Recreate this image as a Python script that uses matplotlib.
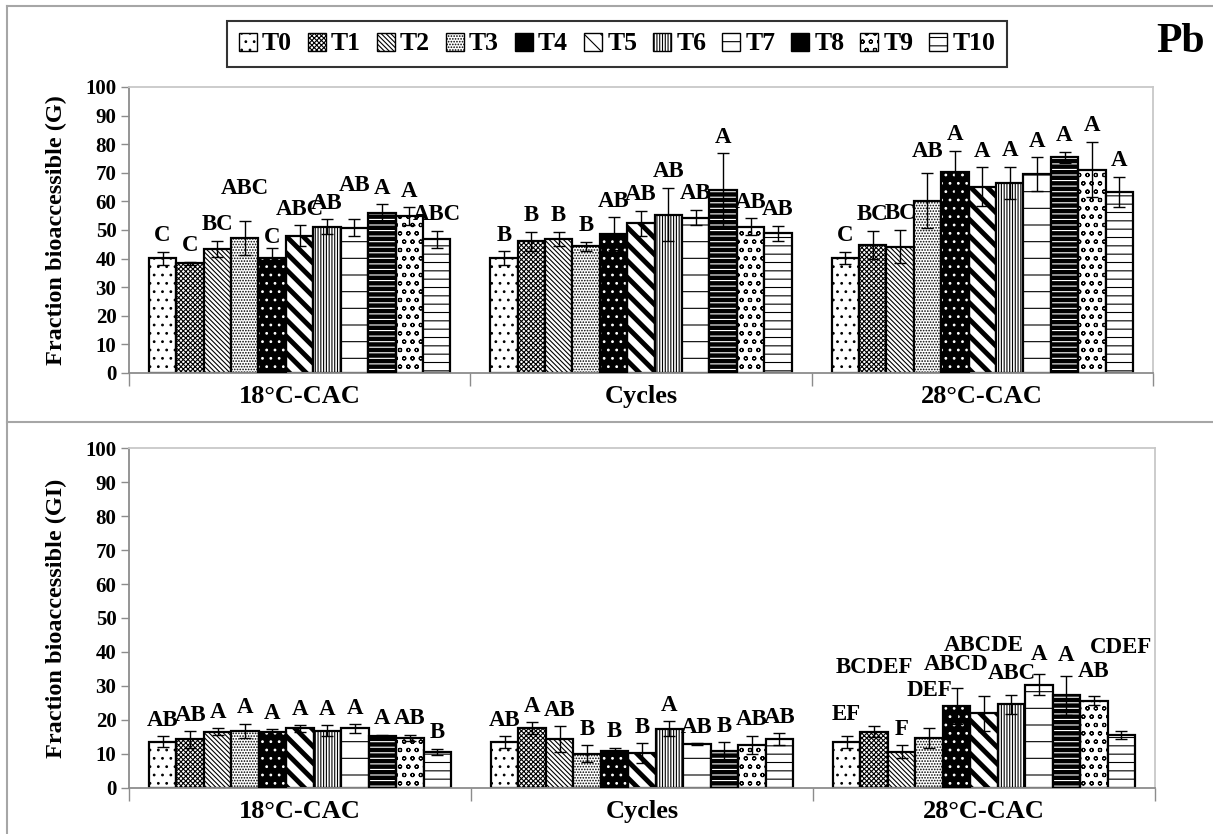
import numpy as np
import matplotlib.pyplot as plt
from matplotlib.patches import Patch
from matplotlib.lines import Line2D

plt.rcParams['font.family'] = ['Liberation Serif', 'DejaVu Serif']
plt.rcParams['font.weight'] = 'bold'
plt.rcParams['hatch.linewidth'] = 0.8

# données
groupes = ['18°C-CAC', 'Cycles', '28°C-CAC']
traitements = ['T0', 'T1', 'T2', 'T3', 'T4', 'T5', 'T6', 'T7', 'T8', 'T9', 'T10']

# fraction bioaccessible (G)
g_18 = [40.1, 38.3, 43.4, 47.2, 40.3, 48.0, 51.2, 50.8, 56.0, 54.8, 46.8]
g_18_err = [2.3, 0.6, 2.9, 6.0, 3.5, 3.6, 2.5, 3.0, 3.0, 3.2, 3.0]
g_18_lettres = ['C', 'C', 'BC', 'ABC', 'C', 'ABC', 'AB', 'AB', 'A', 'A', 'ABC']
g_cyc = [40.2, 46.0, 46.8, 44.3, 48.7, 52.3, 55.4, 54.3, 63.9, 51.2, 48.9]
g_cyc_err = [2.3, 3.3, 2.5, 1.6, 5.8, 4.4, 9.3, 2.7, 12.9, 2.9, 2.6]
g_cyc_lettres = ['B', 'B', 'B', 'B', 'AB', 'AB', 'AB', 'AB', 'A', 'AB', 'AB']
g_28 = [40.2, 44.9, 44.2, 60.3, 70.2, 65.1, 66.4, 69.6, 75.4, 71.1, 63.4]
g_28_err = [2.2, 4.9, 5.8, 9.5, 7.4, 6.8, 5.7, 5.8, 2.0, 9.7, 5.2]
g_28_lettres = ['C', 'BC', 'BC', 'AB', 'A', 'A', 'A', 'A', 'A', 'A', 'A']

# fraction bioaccessible (GI)
gi_18 = [13.6, 14.3, 16.6, 16.8, 16.5, 17.5, 16.9, 17.5, 15.4, 14.7, 10.6]
gi_18_err = [1.6, 2.4, 0.9, 2.0, 0.8, 0.9, 1.5, 1.2, 0.3, 1.0, 1.0]
gi_18_lettres = ['AB', 'AB', 'A', 'A', 'A', 'A', 'A', 'A', 'A', 'AB', 'B']
gi_cyc = [13.5, 17.6, 14.4, 10.0, 10.8, 10.3, 17.4, 12.8, 10.8, 12.7, 14.4]
gi_cyc_err = [1.7, 1.7, 3.7, 2.5, 1.0, 2.9, 2.2, 0.3, 2.7, 2.6, 1.7]
gi_cyc_lettres = ['AB', 'A', 'AB', 'B', 'B', 'B', 'A', 'AB', 'B', 'AB', 'AB']
gi_28 = [13.5, 16.6, 10.7, 14.6, 24.1, 22.0, 24.6, 30.4, 27.2, 25.7, 15.6]
gi_28_err = [1.7, 1.6, 1.8, 2.9, 5.2, 5.1, 2.8, 3.2, 5.6, 1.4, 1.3]
gi_28_lettres = ['EF', 'BCDEF', 'F', 'DEF', 'ABCD', 'ABCDE', 'ABC', 'A', 'A', 'AB', 'CDEF']

# style des barres (motif, fond)
motifs = ['..', 'xxxxxxx', '\\\\\\\\\\\\\\', '......', '..', '\\\\', '||||||', '-', '---', 'oo', '--']
fonds = ['white', 'white', 'white', 'white', 'black', 'white', 'white', 'white', 'black', 'white', 'white']

# décalage des lettres pour éviter les chevauchements (pixels)
decalages = {
    (0, 0): [0, 0, 0, 16, -6, 0, 0, 18, 0, 0, 0],
    (0, 2): [0, 0, 0, 6, 0, 0, 0, 0, 0, 0, 0],
    (1, 2): [6, 43, 0, 22, 8, 34, 5, 3, 5, 8, 67],
}

gris = '#8c8c8c'
gris_clair = '#c8c8c8'
largeur = 0.0803


def dessine(ax, num, series, erreurs, lettres):
    for g in range(3):
        for i in range(11):
            x = g + 0.5 + (i - 5) * largeur
            if fonds[i] == 'black':
                # motif blanc sur fond noir, puis contour noir
                ax.bar(x, series[g][i], largeur, color='black', edgecolor='white',
                       hatch=motifs[i], linewidth=0, zorder=2)
                ax.bar(x, series[g][i], largeur, fill=False, edgecolor='black',
                       linewidth=1.6, zorder=3)
            else:
                b = ax.bar(x, series[g][i], largeur, color='white', edgecolor='black',
                           hatch=motifs[i], linewidth=1.6, zorder=2)
                if i == 5:
                    for p in b:
                        if hasattr(p, 'set_hatch_linewidth'):
                            p.set_hatch_linewidth(3.5)
            ax.errorbar(x, series[g][i], yerr=erreurs[g][i], fmt='none', ecolor='black',
                        elinewidth=1, capsize=4, capthick=1, zorder=4)
            dec = decalages.get((num, g), [0] * 11)[i]
            ax.annotate(lettres[g][i], (x, series[g][i] + erreurs[g][i]),
                        xytext=(0, 4 + dec * 0.72), textcoords='offset points',
                        ha='center', va='bottom', fontsize=16.5, fontweight='bold', zorder=5)

    ax.set_xlim(0, 3)
    ax.set_ylim(0, 100)
    ax.set_yticks(np.arange(0, 101, 10))
    ax.tick_params(axis='y', direction='out', length=6, width=1, color=gris, labelsize=15, pad=3)
    ax.set_xticks([0, 1, 2, 3])
    ax.set_xticklabels([])
    ax.set_xticks([0.5, 1.5, 2.5], minor=True)
    ax.set_xticklabels(groupes, minor=True, fontsize=19, fontweight='bold')
    ax.tick_params(axis='x', which='major', direction='out', length=9, width=1, color=gris)
    ax.tick_params(axis='x', which='minor', length=0, pad=9)
    for s in ['left', 'bottom']:
        ax.spines[s].set_color(gris)
        ax.spines[s].set_linewidth(1.3)
    for s in ['top', 'right']:
        ax.spines[s].set_color(gris_clair)
        ax.spines[s].set_linewidth(1.3)


fig = plt.figure(figsize=(12.13, 8.34), dpi=100)
ax1 = fig.add_axes([0.1063, 0.5528, 0.8442, 0.3429])
ax2 = fig.add_axes([0.1063, 0.0552, 0.8459, 0.4076])

dessine(ax1, 0, [g_18, g_cyc, g_28], [g_18_err, g_cyc_err, g_28_err],
        [g_18_lettres, g_cyc_lettres, g_28_lettres])
dessine(ax2, 1, [gi_18, gi_cyc, gi_28], [gi_18_err, gi_cyc_err, gi_28_err],
        [gi_18_lettres, gi_cyc_lettres, gi_28_lettres])

ax1.set_ylabel('Fraction bioaccessible (G)', fontsize=17.5, fontweight='bold', labelpad=13)
ax2.set_ylabel('Fraction bioaccessible (GI)', fontsize=17.5, fontweight='bold', labelpad=13)

# légende
poignees = []
for i in range(11):
    poignees.append(Patch(facecolor=fonds[i], edgecolor='black', hatch=motifs[i], linewidth=1))
leg = fig.legend(poignees, traitements, loc='center', bbox_to_anchor=(617 / 1213, 1 - 44 / 834),
                 ncol=11, fontsize=18.5, frameon=True, fancybox=False, handlelength=0.7,
                 handleheight=0.7, handletextpad=0.2, columnspacing=0.62, borderpad=0.45)
leg.get_frame().set_edgecolor('black')
leg.get_frame().set_linewidth(1.5)
for t in leg.get_texts():
    t.set_fontweight('bold')

fig.text(1181 / 1213, 1 - 42 / 834, 'Pb', fontsize=30, fontweight='bold', ha='center', va='center')

# cadre
fig.add_artist(Line2D([7 / 1213, 7 / 1213], [0, 1 - 6 / 834], color='#a6a6a6', lw=1.5))
fig.add_artist(Line2D([7 / 1213, 1], [1 - 6 / 834, 1 - 6 / 834], color='#a6a6a6', lw=1.5))
fig.add_artist(Line2D([7 / 1213, 1], [1 - 422 / 834, 1 - 422 / 834], color='#a6a6a6', lw=1.5))

fig.savefig('out.png', dpi=100)
